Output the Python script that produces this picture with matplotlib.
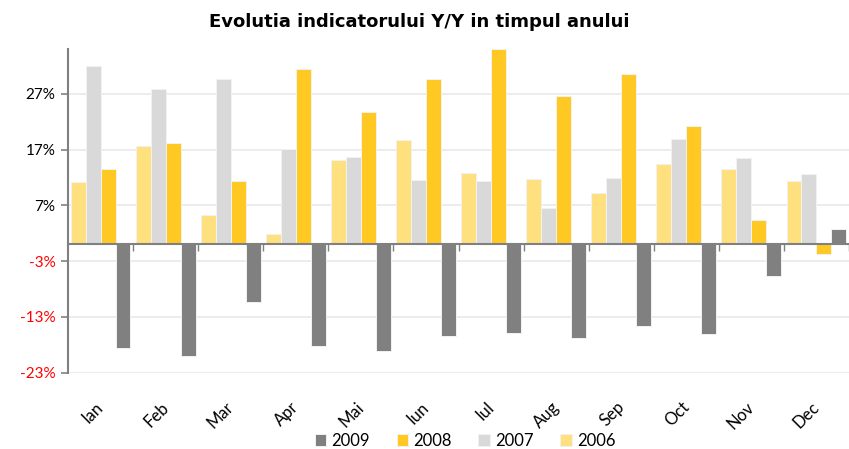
import matplotlib
matplotlib.use("Agg")
import matplotlib.pyplot as plt
import numpy as np
from matplotlib.transforms import blended_transform_factory

plt.rcParams['font.family'] = ['Lato', 'DejaVu Sans']

# --- datos ---
months = ['Ian', 'Feb', 'Mar', 'Apr', 'Mai', 'Iun', 'Iul', 'Aug', 'Sep', 'Oct', 'Nov', 'Dec']
v2006 = [11.2, 17.7, 5.3, 1.9, 15.2, 18.7, 12.8, 11.8, 9.2, 14.4, 13.5, 11.3]
v2007 = [32.0, 27.8, 29.6, 17.1, 15.6, 11.5, 11.4, 6.6, 11.9, 19.0, 15.5, 12.6]
v2008 = [13.5, 18.2, 11.4, 31.5, 23.7, 29.6, 35.0, 26.6, 30.5, 21.2, 4.4, -1.7]
v2009 = [-18.5, -20.0, -10.4, -18.3, -19.1, -16.5, -15.9, -16.8, -14.7, -16.0, -5.6, 2.8]
years = ['2006', '2007', '2008', '2009']
colors = ['#FFE07F', '#D9D9D9', '#FFC822', '#808080']
yticks = [-23, -13, -3, 7, 17, 27]

fig = plt.figure(figsize=(8.49, 4.49), dpi=100)
ax = fig.add_axes([68 / 849, 1 - 372.7 / 449, 781 / 849, 323.4 / 449])

x = np.arange(len(months))
w = 0.23
bars = {}
for k, (vals, yr, col) in enumerate(zip([v2006, v2007, v2008, v2009], years, colors)):
    bars[yr] = ax.bar(x + (k - 1.5) * w, vals, w, color=col, edgecolor='#F2F2F2',
                      linewidth=0.7, label=yr, zorder=2)

ax.set_ylim(-23, 35)
ax.set_xlim(-0.5, 11.405)
ax.set_yticks(yticks)
ax.set_yticklabels([f'{v}%' for v in yticks], fontsize=11)
for lbl, v in zip(ax.get_yticklabels(), yticks):
    lbl.set_color('#FF0000' if v < 0 else 'black')
ax.yaxis.grid(True, color='#EBEBEB', linewidth=1.3)
ax.set_axisbelow(True)

for s in ['top', 'right']:
    ax.spines[s].set_visible(False)
ax.spines['left'].set_color('#808080')
ax.spines['left'].set_linewidth(1.5)
ax.spines['bottom'].set_position(('data', 0))
ax.spines['bottom'].set_color('#808080')
ax.spines['bottom'].set_linewidth(1.5)
ax.spines['bottom'].set_zorder(3)

ax.set_xticks(x + 0.5)
ax.set_xticklabels([])
ax.tick_params(axis='x', direction='out', length=5, color='#808080', width=1)
ax.tick_params(axis='y', direction='out', length=5, color='#808080', width=1.2, pad=4)

# etiquetas de meses debajo del eje
trans = blended_transform_factory(ax.transData, ax.transAxes)
for i, m in enumerate(months):
    ax.text(i - 0.08, -0.081, m, rotation=45, ha='right', va='top',
            rotation_mode='anchor', transform=trans, fontsize=12)

fig.text(419 / 849, 1 - 22 / 449, 'Evolutia indicatorului Y/Y in timpul anului',
         ha='center', va='center', fontsize=13, fontweight='bold', family='DejaVu Sans')

order = ['2009', '2008', '2007', '2006']
fig.legend([bars[y] for y in order], order, loc='center',
           bbox_to_anchor=(465 / 849, 1 - 441 / 449), ncol=4, frameon=False,
           fontsize=12, handlelength=0.7, handleheight=0.7, handletextpad=0.3,
           columnspacing=1.6)

fig.savefig('out.png', dpi=100)
